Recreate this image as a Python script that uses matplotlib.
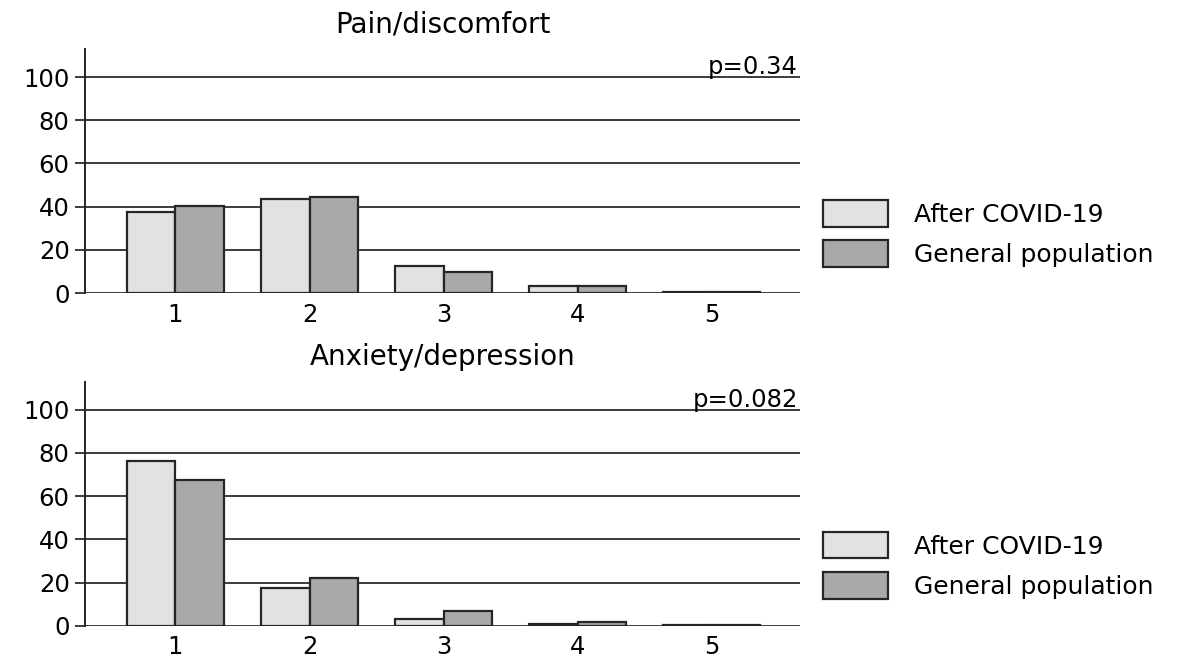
import matplotlib
matplotlib.use("Agg")
import matplotlib.pyplot as plt
import matplotlib.patches as patches
import numpy as np

plt.rcParams["font.family"] = ["DejaVu Sans"]

levels = ["1", "2", "3", "4", "5"]
series_names = ["After COVID-19", "General population"]

pain_after = [37.7, 43.7, 12.6, 3.4, 0.3]
pain_general = [40.5, 44.3, 9.6, 3.2, 0.3]
anx_after = [76.5, 17.3, 3.2, 1.0, 0.3]
anx_general = [67.7, 22.1, 7.0, 1.5, 0.3]

panels = [
    ("Pain/discomfort", pain_after, pain_general, "p=0.34"),
    ("Anxiety/depression", anx_after, anx_general, "p=0.082"),
]

LIGHT = "#e1e2e3"
DARK = "#a8a9ab"
EDGE = "#262626"
GRID = "#3c3c3c"

fig = plt.figure(figsize=(11.82, 6.58), dpi=100)
axes = [fig.add_axes([0.0719, 0.5547, 0.605, 0.3708]),
        fig.add_axes([0.0719, 0.0491, 0.605, 0.3708])]
legend_y = [0.645, 0.1406]

x = np.arange(1, len(levels) + 1)
w = 0.36

for ax, (title, after, general, ptxt), ly in zip(axes, panels, legend_y):
    ax.set_axisbelow(True)
    ax.bar(x - w / 2, after, w, color=LIGHT, edgecolor=EDGE, linewidth=1.6, zorder=3)
    ax.bar(x + w / 2, general, w, color=DARK, edgecolor=EDGE, linewidth=1.6, zorder=3)

    ax.set_xlim(0.325, 5.66)
    ax.set_ylim(0, 113)
    ax.set_yticks([0, 20, 40, 60, 80, 100])
    ax.set_xticks(x)
    ax.set_xticklabels(levels)
    ax.yaxis.grid(True, color=GRID, linewidth=1.4)
    ax.tick_params(axis="y", length=7, width=1.4, color=GRID, pad=4, labelsize=17.5)
    ax.tick_params(axis="x", length=0, pad=7, labelsize=17.5)
    for side in ("top", "right", "bottom"):
        ax.spines[side].set_visible(False)
    ax.spines["left"].set_color(EDGE)
    ax.spines["left"].set_linewidth(1.4)

    ax.set_title(title, fontsize=20, pad=12)
    ax.text(0.997, 101.5, ptxt, transform=ax.get_yaxis_transform(),
            ha="right", va="baseline", fontsize=17.5)

    handles = [patches.Patch(facecolor=LIGHT, edgecolor=EDGE, linewidth=1.6),
               patches.Patch(facecolor=DARK, edgecolor=EDGE, linewidth=1.6)]
    fig.legend(handles, series_names, loc="center left", bbox_to_anchor=(0.696, ly),
               frameon=False, fontsize=18, borderpad=0, borderaxespad=0,
               handlelength=2.6, handleheight=1.25, handletextpad=1.05,
               labelspacing=0.55)

fig.savefig("out.png", dpi=100)
